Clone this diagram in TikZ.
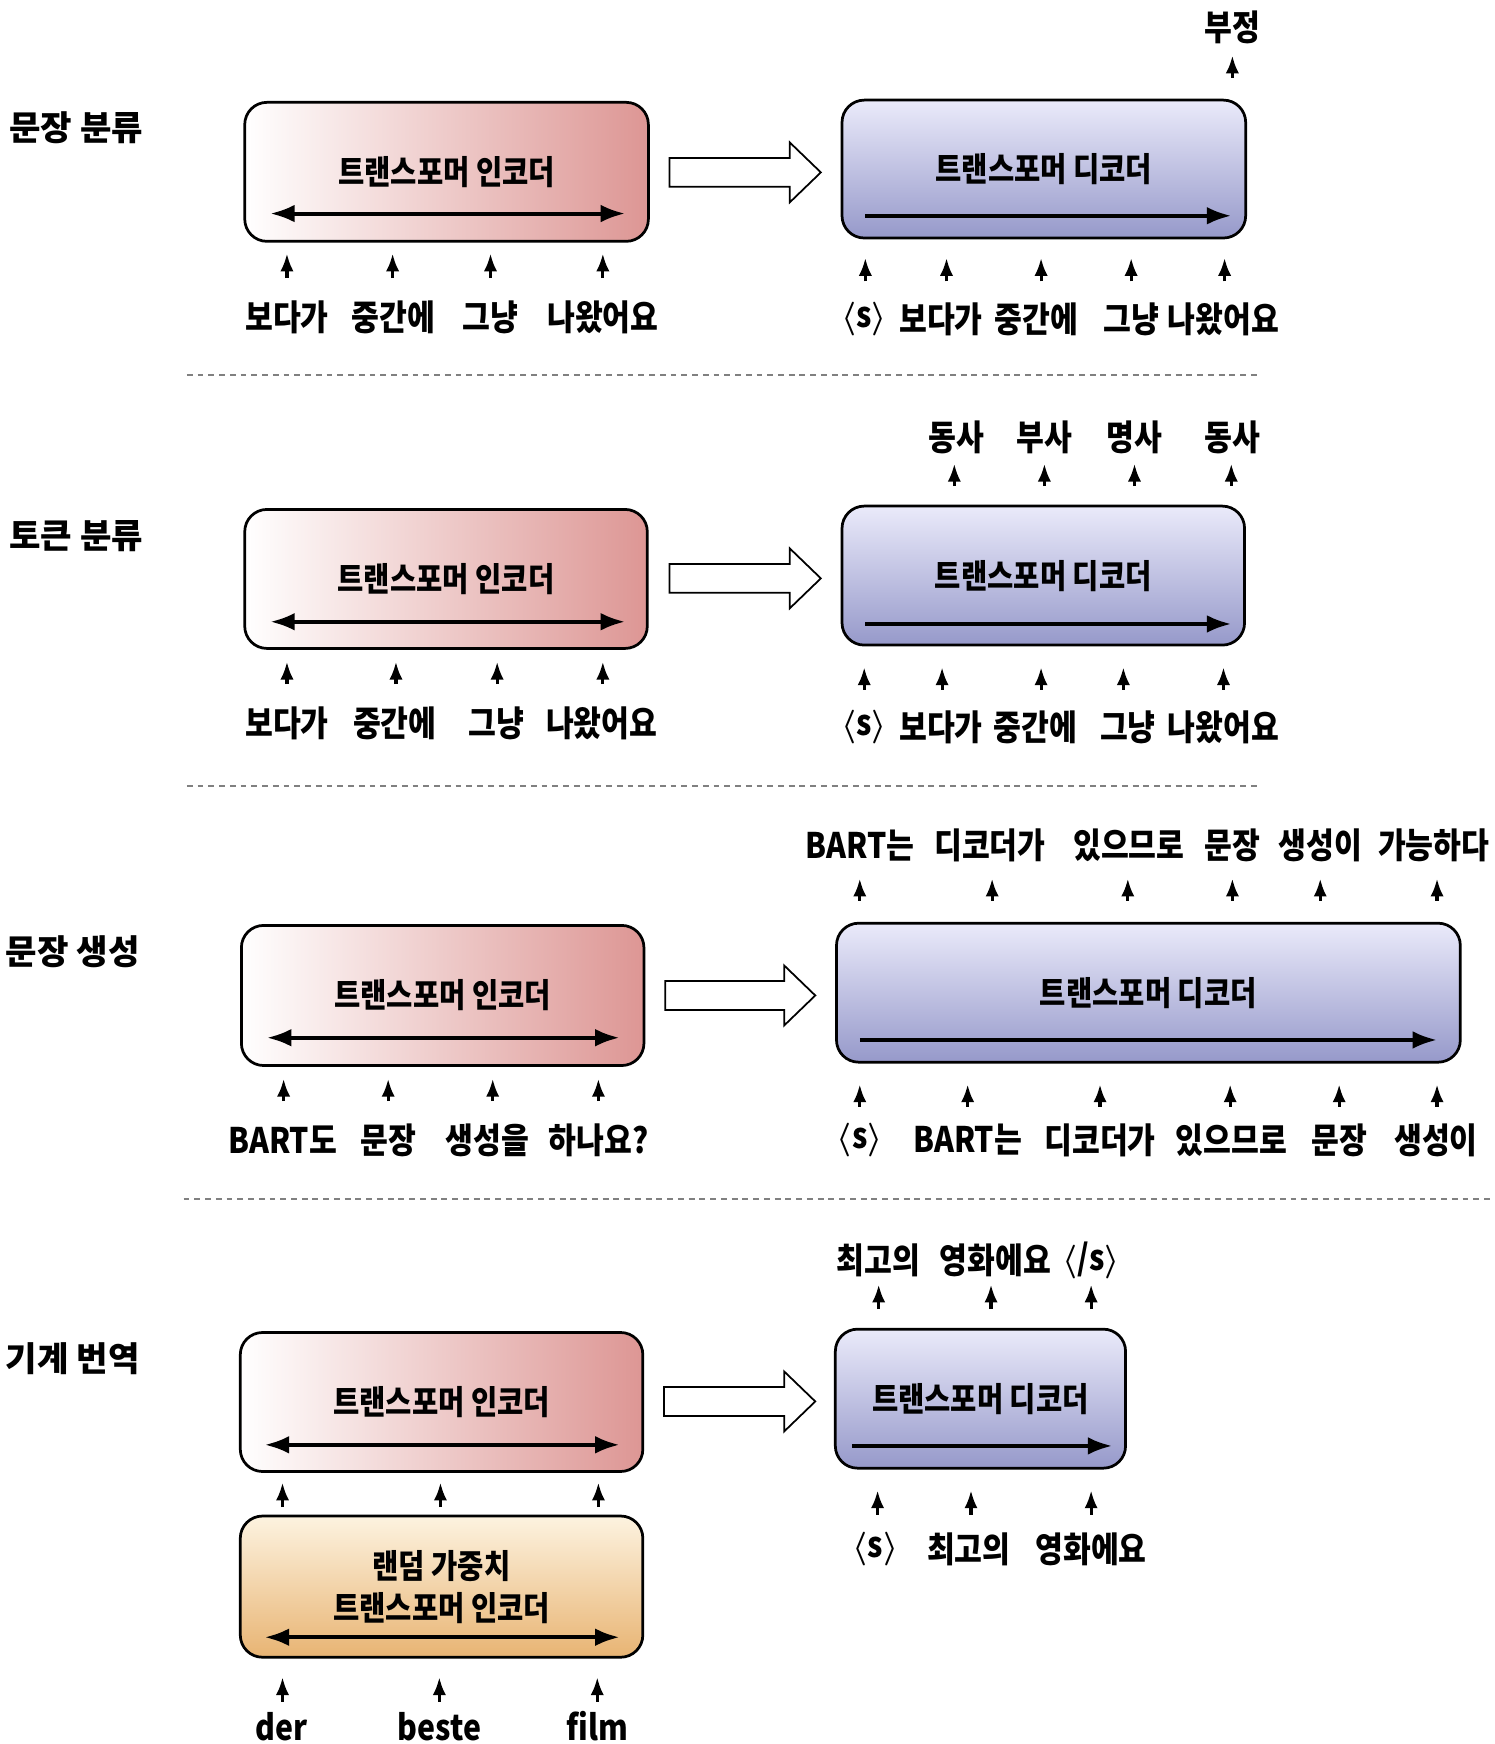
\documentclass[tikz,border=0pt]{standalone}
\usepackage{fontspec}
\newfontfamily\kr{Noto Sans CJK KR Black}[FakeStretch=0.86]
\newfontfamily\krw{Noto Sans CJK KR Black}
\usetikzlibrary{arrows.meta}
\definecolor{encR}{RGB}{221,150,148}
\definecolor{decTop}{RGB}{234,234,250}
\definecolor{decBot}{RGB}{150,153,202}
\definecolor{orTop}{RGB}{253,243,224}
\definecolor{orBot}{RGB}{232,180,115}
\newcommand\ang[1]{{\boldmath$\langle$}#1{\boldmath$\rangle$}}
\tikzset{
  box/.style={draw=black, line width=1.4pt, rounded corners=0.4cm, inner sep=0pt,
    font=\kr\fontsize{17}{21.5}\selectfont, text=black},
  encbox/.style={box, left color=white, right color=encR},
  decbox/.style={box, top color=decTop, bottom color=decBot},
  rndbox/.style={box, top color=orTop, bottom color=orBot, align=center},
  lab/.style={font=\kr\fontsize{18}{21}\selectfont, inner sep=0pt},
  sec/.style={font=\krw\fontsize{17.5}{20}\selectfont, anchor=west, inner sep=0pt},
  tok/.style={line width=1.6pt, -{Latex[length=0.32cm,width=0.24cm]}},
  inarr/.style={line width=2pt, -{Latex[length=0.44cm,width=0.32cm]}},
  inboth/.style={line width=2pt, {Latex[length=0.44cm,width=0.32cm]}-{Latex[length=0.44cm,width=0.32cm]}},
  hollow/.style={draw=black, line width=0.9pt, fill=white},
  sepline/.style={draw=gray, line width=0.9pt, dash pattern=on 3pt off 2.5pt}
}
\newcommand\hollowarrow[3]{%
  \draw[hollow] (#1,#3-13) -- (#2-28,#3-13) -- (#2-28,#3-27) -- (#2,#3)
    -- (#2-28,#3+27) -- (#2-28,#3+13) -- (#1,#3+13) -- cycle;}
\begin{document}
\begin{tikzpicture}[x=0.02cm,y=-0.02cm]
\useasboundingbox (0,0) rectangle (1344,1568);

% ---------------- Section 1: sentence classification
\node[sec] (s1) at (8,115) {문장 분류};
\node[encbox, minimum width=7.26cm, minimum height=2.5cm] (e1) at (401.5,154.5) {트랜스포머 인코더};
\draw[inboth] (243,192) -- (562,192);
\node[decbox, minimum width=7.26cm, minimum height=2.48cm] (d1) at (938.5,152) {트랜스포머 디코더};
\draw[inarr] (778,194) -- (1107,194);
\hollowarrow{602}{738}{155}
\node[lab] (a11) at (258,285) {보다가};
\node[lab] (a12) at (354,285) {중간에};
\node[lab] (a13) at (441,285) {그냥};
\node[lab] (a14) at (542,285) {나왔어요};
\foreach \x in {258,353,441,542} \draw[tok] (\x,250) -- (\x,228);
\node[lab] (b10) at (777,287) {\ang{s}};
\node[lab] (b11) at (846,287) {보다가};
\node[lab] (b12) at (932,287) {중간에};
\node[lab] (b13) at (1017,287) {그냥};
\node[lab] (b14) at (1100,287) {나왔어요};
\foreach \x in {778,851,936,1017,1101} \draw[tok] (\x,253) -- (\x,232);
\node[lab] (o1) at (1108,25) {부정};
\draw[tok] (1108,70) -- (1108,50);
\draw[sepline] (168,337) -- (1133,337);

% ---------------- Section 2: token classification
\node[sec] (s2) at (8,482) {토큰 분류};
\node[encbox, minimum width=7.24cm, minimum height=2.5cm] (e2) at (401,520.5) {트랜스포머 인코더};
\draw[inboth] (243,559) -- (562,559);
\node[decbox, minimum width=7.24cm, minimum height=2.5cm] (d2) at (938,517.5) {트랜스포머 디코더};
\draw[inarr] (778,561) -- (1107,561);
\hollowarrow{602}{738}{520}
\node[lab] (a21) at (258,650) {보다가};
\node[lab] (a22) at (355,650) {중간에};
\node[lab] (a23) at (446,650) {그냥};
\node[lab] (a24) at (541,650) {나왔어요};
\foreach \x in {258,356,447,542} \draw[tok] (\x,615) -- (\x,595);
\node[lab] (b20) at (777,654) {\ang{s}};
\node[lab] (b21) at (846,654) {보다가};
\node[lab] (b22) at (931,654) {중간에};
\node[lab] (b23) at (1014,654) {그냥};
\node[lab] (b24) at (1100,654) {나왔어요};
\foreach \x in {777,847,936,1010,1100} \draw[tok] (\x,620) -- (\x,600);
\node[lab] (o21) at (860,393) {동사};
\node[lab] (o22) at (939,393) {부사};
\node[lab] (o23) at (1020,393) {명사};
\node[lab] (o24) at (1108,393) {동사};
\foreach \x in {858,939,1020,1107} \draw[tok] (\x,437) -- (\x,417);
\draw[sepline] (168,707) -- (1133,707);

% ---------------- Section 3: sentence generation
\node[sec] (s3) at (5,856) {문장 생성};
\node[encbox, minimum width=7.24cm, minimum height=2.52cm] (e3) at (398,895) {트랜스포머 인코더};
\draw[inboth] (240,933) -- (557,933);
\node[decbox, minimum width=11.22cm, minimum height=2.5cm] (d3) at (1032.5,892.5) {트랜스포머 디코더};
\draw[inarr] (773,935) -- (1292,935);
\hollowarrow{598}{733}{895}
\node[lab] (a31) at (254,1025) {BART도};
\node[lab] (a32) at (349,1025) {문장};
\node[lab] (a33) at (438,1025) {생성을};
\node[lab] (a34) at (538,1025) {하나요?};
\foreach \x in {255,349,443,538} \draw[tok] (\x,990) -- (\x,970);
\node[lab] (b30) at (773,1025) {\ang{s}};
\node[lab] (b31) at (870,1025) {BART는};
\node[lab] (b32) at (989,1025) {디코더가};
\node[lab] (b33) at (1107,1025) {있으므로};
\node[lab] (b34) at (1204,1025) {문장};
\node[lab] (b35) at (1291,1025) {생성이};
\foreach \x in {773,870,989,1106,1204,1292} \draw[tok] (\x,995) -- (\x,975);
\node[lab] (o31) at (773,760) {BART는};
\node[lab] (o32) at (890,760) {디코더가};
\node[lab] (o33) at (1015,760) {있으므로};
\node[lab] (o34) at (1108,760) {문장};
\node[lab] (o35) at (1187,760) {생성이};
\node[lab] (o36) at (1289,760) {가능하다};
\foreach \x in {773,892,1014,1108,1187,1292} \draw[tok] (\x,810) -- (\x,790);
\draw[sepline] (165,1078) -- (1340,1078);

% ---------------- Section 4: machine translation
\node[sec] (s4) at (5,1222) {기계 번역};
\node[encbox, minimum width=7.24cm, minimum height=2.5cm] (e4) at (397,1260.5) {트랜스포머 인코더};
\draw[inboth] (238,1299) -- (557,1299);
\node[rndbox, minimum width=7.24cm, minimum height=2.54cm] (r4) at (397,1426.5) {랜덤 가중치\\트랜스포머 인코더};
\draw[inboth] (238,1472) -- (557,1472);
\foreach \x in {254,396,538} \draw[tok] (\x,1355) -- (\x,1333);
\node[lab] (a41) at (253,1552) {der};
\node[lab] (a42) at (395,1552) {beste};
\node[lab] (a43) at (537,1552) {film};
\foreach \x in {254,395,537} \draw[tok] (\x,1530) -- (\x,1508);
\node[decbox, minimum width=5.22cm, minimum height=2.5cm] (d4) at (881.5,1257.5) {트랜스포머 디코더};
\draw[inarr] (766,1300) -- (1000,1300);
\hollowarrow{597}{733}{1260}
\node[lab] (b40) at (787,1393) {\ang{s}};
\node[lab] (b41) at (871,1393) {최고의};
\node[lab] (b42) at (981,1393) {영화에요};
\foreach \x in {789,873,981} \draw[tok] (\x,1362) -- (\x,1340);
\node[lab] (o41) at (790,1133) {최고의};
\node[lab] (o42) at (895,1133) {영화에요};
\node[lab] (o43) at (981,1133) {\ang{/s}};
\foreach \x in {790,891,981} \draw[tok] (\x,1177) -- (\x,1155);
\end{tikzpicture}
\end{document}
